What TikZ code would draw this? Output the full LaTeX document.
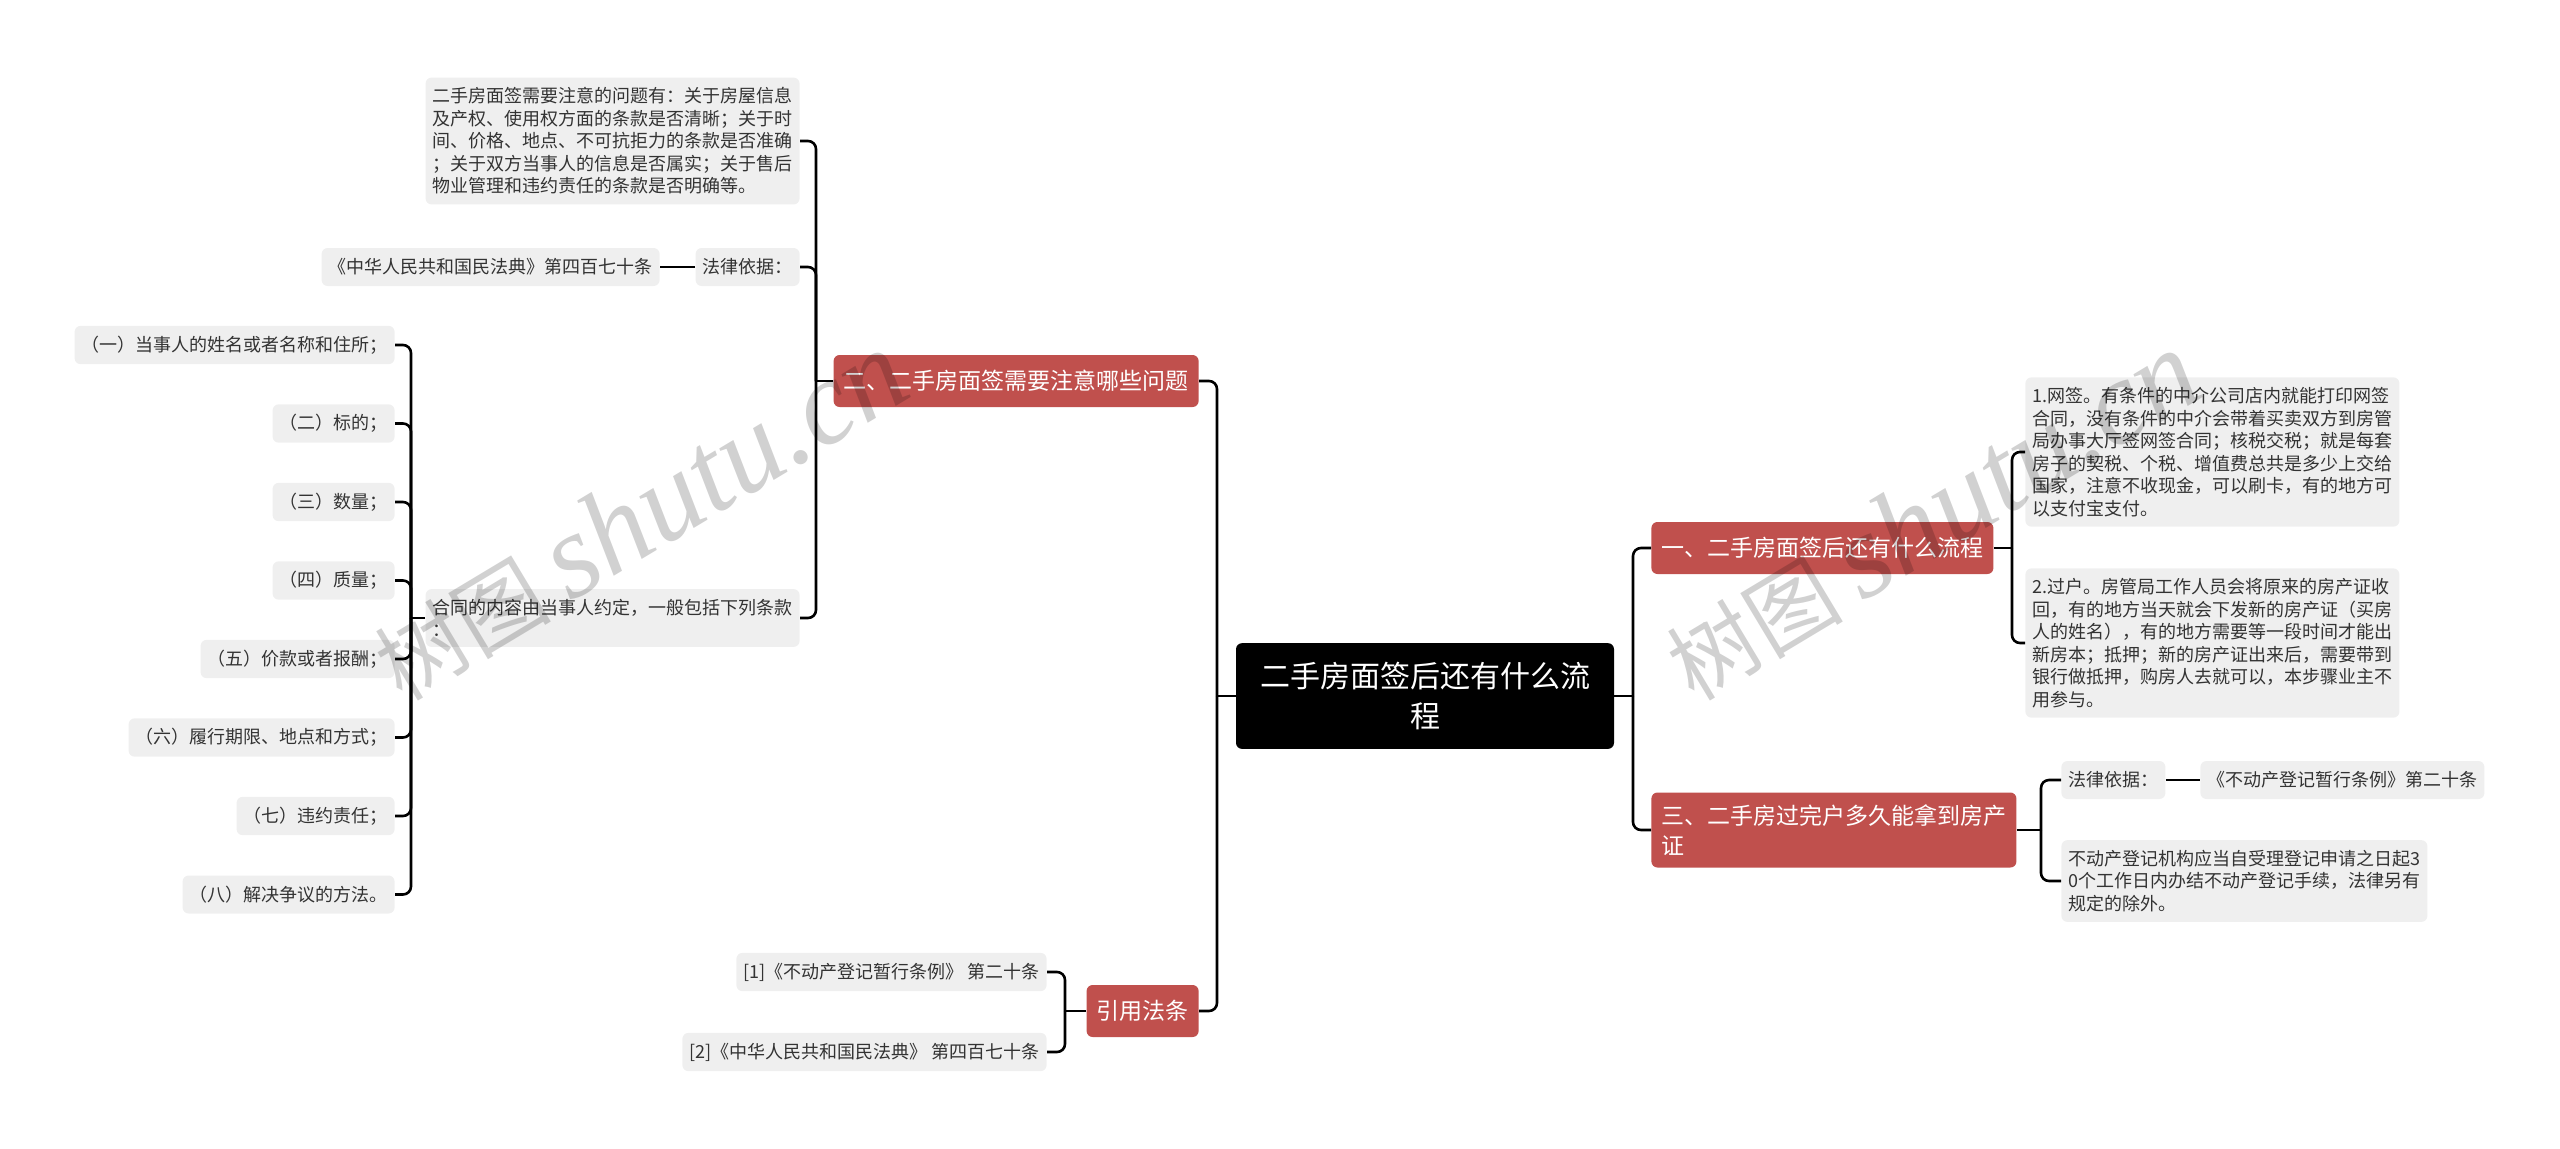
\documentclass[tikz,border=0pt]{standalone}
\usepackage{fontspec}
\setmainfont{Noto Sans CJK SC}
\newfontfamily\wmfont{Liberation Serif}
\definecolor{topicred}{HTML}{C0504D}
\definecolor{leafgray}{HTML}{EFEFEF}
\begin{document}
\begin{tikzpicture}[x=0.5pt,y=-0.5pt,
    root/.style={fill=black,text=white,rounded corners=3pt,inner xsep=12pt,inner ysep=9.5pt,align=center,font=\fontsize{15}{20}\selectfont},
    topic/.style={fill=topicred,text=white,rounded corners=3pt,inner xsep=5pt,minimum height=26pt,font=\fontsize{11.5}{15}\selectfont},
    leaf/.style={fill=leafgray,text=black!80,rounded corners=3pt,inner xsep=3.5pt,inner ysep=5pt,minimum height=19pt,align=left,font=\fontsize{9}{11.25}\selectfont},
    link/.style={line width=1.3pt,rounded corners=4pt},
    wm/.style={rotate=31,text=black,text opacity=0.18,inner sep=0pt}]
  \useasboundingbox (0,0) rectangle (2560,1148);
  % Корень
  \node[root] (root) at (1425,696) {二手房面签后还有什么流\\程};
  \coordinate (jl) at (1217,696);
  \coordinate (jr) at (1633,696);
  % Левая ветвь
  \node[topic,anchor=east] (q2) at (1199,381) {二、二手房面签需要注意哪些问题};
  \node[topic,anchor=east] (laws) at (1199,1011) {引用法条};
  \node[leaf,anchor=east] (q2a) at (800,141) {二手房面签需要注意的问题有：关于房屋信息\\及产权、使用权方面的条款是否清晰；关于时\\间、价格、地点、不可抗拒力的条款是否准确\\；关于双方当事人的信息是否属实；关于售后\\物业管理和违约责任的条款是否明确等。};
  \node[leaf,anchor=east] (q2b) at (800,267) {法律依据：};
  \node[leaf,anchor=east] (q2b1) at (660,267) {《中华人民共和国民法典》第四百七十条};
  \node[leaf,anchor=east] (q2c) at (800,618) {合同的内容由当事人约定，一般包括下列条款\\：};
  \coordinate (j2) at (816,381);
  \coordinate (jc) at (411,618);
  \foreach \txt [count=\i] in {（一）当事人的姓名或者名称和住所；,（二）标的；,（三）数量；,（四）质量；,
      （五）价款或者报酬；,（六）履行期限、地点和方式；,（七）违约责任；,（八）解决争议的方法。}{
    \node[leaf,anchor=east] (c\i) at (395,{345+78.5*(\i-1)}) {\txt};
    \draw[link] (jc) |- (c\i.east);}
  \node[leaf,anchor=east] (law1) at (1047,972) {[1]《不动产登记暂行条例》 第二十条};
  \node[leaf,anchor=east] (law2) at (1047,1052) {[2]《中华人民共和国民法典》 第四百七十条};
  \coordinate (jlaw) at (1065,1011);
  % Правая ветвь
  \node[topic,anchor=west] (q1) at (1651,548) {一、二手房面签后还有什么流程};
  \node[topic,anchor=west,align=left,inner ysep=6pt] (q3) at (1651,830) {三、二手房过完户多久能拿到房产\\证};
  \node[leaf,anchor=west] (q1a) at (2025,452) {1.网签。有条件的中介公司店内就能打印网签\\合同，没有条件的中介会带着买卖双方到房管\\局办事大厅签网签合同；核税交税；就是每套\\房子的契税、个税、增值费总共是多少上交给\\国家，注意不收现金，可以刷卡，有的地方可\\以支付宝支付。};
  \node[leaf,anchor=west] (q1b) at (2025,643) {2.过户。房管局工作人员会将原来的房产证收\\回，有的地方当天就会下发新的房产证（买房\\人的姓名），有的地方需要等一段时间才能出\\新房本；抵押；新的房产证出来后，需要带到\\银行做抵押，购房人去就可以，本步骤业主不\\用参与。};
  \node[leaf,anchor=west] (q3a) at (2061,780) {法律依据：};
  \node[leaf,anchor=west] (q3a1) at (2200,780) {《不动产登记暂行条例》第二十条};
  \node[leaf,anchor=west] (q3b) at (2061,881) {不动产登记机构应当自受理登记申请之日起3\\0个工作日内办结不动产登记手续，法律另有\\规定的除外。};
  \coordinate (j1) at (2012,548);
  \coordinate (j3) at (2041,830);
  % Связи
  \draw[link] (root.west) -- (jl);
  \draw[link] (jl) |- (q2.east);
  \draw[link] (jl) |- (laws.east);
  \draw[link] (q2.west) -- (j2);
  \draw[link] (j2) |- (q2a.east);
  \draw[link] (j2) |- (q2b.east);
  \draw[link] (j2) |- (q2c.east);
  \draw[link] (q2b.west) -- (q2b1.east);
  \draw[link] (q2c.west) -- (jc);
  \draw[link] (laws.west) -- (jlaw);
  \draw[link] (jlaw) |- (law1.east);
  \draw[link] (jlaw) |- (law2.east);
  \draw[link] (root.east) -- (jr);
  \draw[link] (jr) |- (q1.west);
  \draw[link] (jr) |- (q3.west);
  \draw[link] (q1.east) -- (j1);
  \draw[link] (j1) |- (q1a.west);
  \draw[link] (j1) |- (q1b.west);
  \draw[link] (q3.east) -- (j3);
  \draw[link] (j3) |- (q3a.west);
  \draw[link] (j3) |- (q3b.west);
  \draw[link] (q3a.east) -- (q3a1.west);
  % Водяные знаки
  \node[wm] (wm1) at (640,516) {\fontsize{44}{44}\selectfont 树图 {\wmfont\itshape\fontsize{60}{60}\selectfont shutu.cn}};
  \node[wm] (wm2) at (1932,516) {\fontsize{44}{44}\selectfont 树图 {\wmfont\itshape\fontsize{60}{60}\selectfont shutu.cn}};
\end{tikzpicture}
\end{document}
